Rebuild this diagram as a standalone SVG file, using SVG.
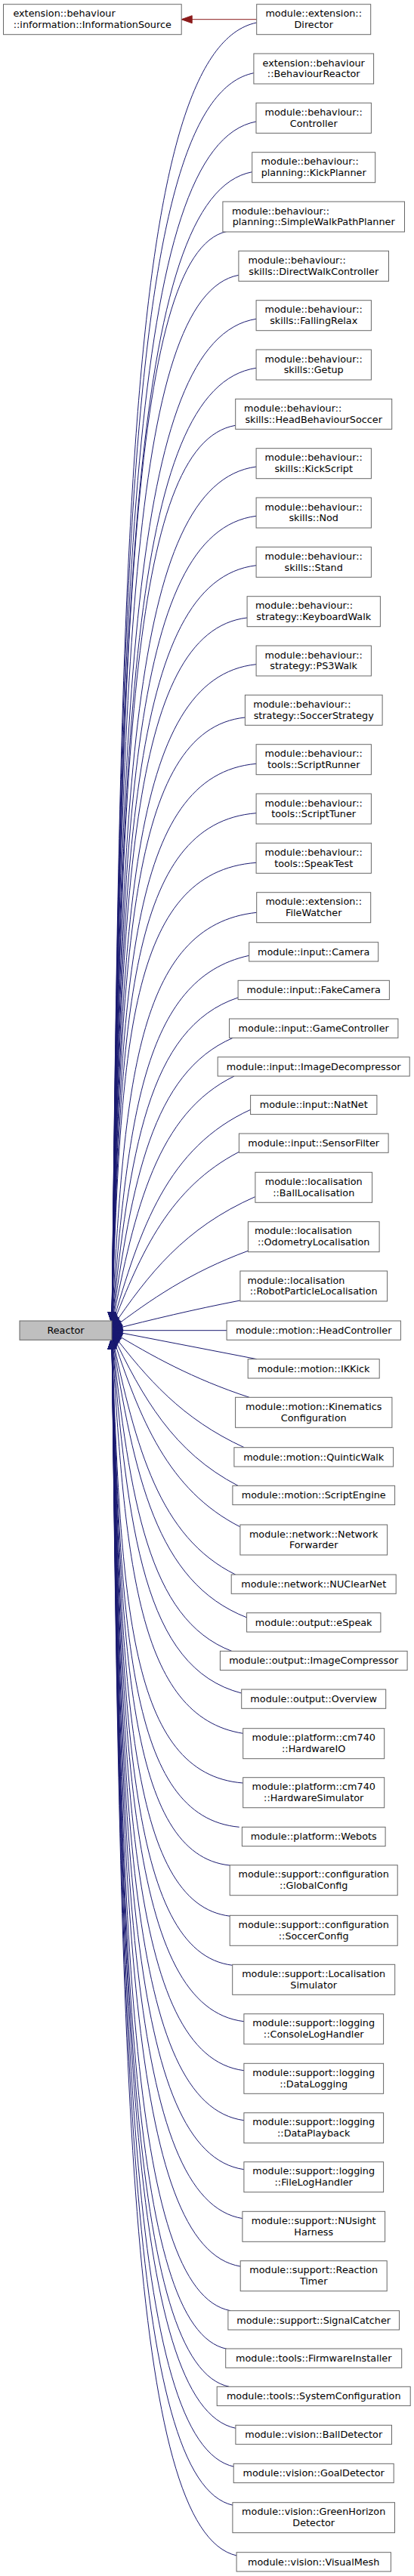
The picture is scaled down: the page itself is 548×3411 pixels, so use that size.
<svg xmlns="http://www.w3.org/2000/svg" width="548" height="3411" viewBox="0 0 548 3411">
<style>
rect{fill:#fff;stroke:#666;stroke-width:1}
#node-reactor rect{fill:#bfbfbf}
text{font-family:"DejaVu Sans",sans-serif;font-size:12.8px;fill:#000;text-anchor:middle}
text.l{text-anchor:start}
#edges path{fill:none;stroke:#191970;stroke-width:1;marker-end:url(#ab)}
#edges path.r{stroke:#8b1a1a;marker-end:url(#ar)}
</style>
<defs>
<marker id="ab" viewBox="0 -5 14 10" refX="14" refY="0" markerWidth="14" markerHeight="10" markerUnits="userSpaceOnUse" orient="auto" overflow="visible"><path d="M0,-5L14,0L0,5z" fill="#191970" stroke="#191970" stroke-width="1"/></marker>
<marker id="ar" viewBox="0 -5 14 10" refX="14" refY="0" markerWidth="14" markerHeight="10" markerUnits="userSpaceOnUse" orient="auto" overflow="visible"><path d="M0,-5L14,0L0,5z" fill="#8b1a1a" stroke="#8b1a1a" stroke-width="1"/></marker>
</defs>
<rect x="0" y="0" width="548" height="3411" style="fill:#fff;stroke:none"/>
<g id="edges">
<path class="r" d="M339.7,25.7 L240.2,25.7"/>
<path d="M339.7,30 C170,64.4 160,718.7 148,1751.7"/>
<path d="M335.9,96.7 C170,129.8 160,758.7 148,1751.7"/>
<path d="M339,161 C170,192.8 160,797.3 148,1751.7"/>
<path d="M333.7,227.7 C170,258.2 160,837.3 148,1751.7"/>
<path d="M300,306.5 C170,335.4 160,884.6 148,1751.7"/>
<path d="M315.9,364.3 C170,392 160,919.3 148,1751.7"/>
<path d="M339.1,422.3 C170,448.9 160,954.1 148,1751.7"/>
<path d="M339.1,487.3 C170,512.6 160,993.1 148,1751.7"/>
<path d="M311.7,563.3 C170,587.1 160,1038.7 148,1751.7"/>
<path d="M339.1,618 C170,640.7 160,1071.5 148,1751.7"/>
<path d="M339.1,683.3 C170,704.7 160,1110.7 148,1751.7"/>
<path d="M339.1,748.7 C170,768.8 160,1149.9 148,1751.7"/>
<path d="M327.1,818 C170,836.7 160,1191.5 148,1751.7"/>
<path d="M339.1,879.7 C170,897.1 160,1228.5 148,1751.7"/>
<path d="M324.4,950 C170,966 160,1270.7 148,1751.7"/>
<path d="M339.1,1011.3 C170,1026.1 160,1307.5 148,1751.7"/>
<path d="M339.1,1076.7 C170,1090.2 160,1346.7 148,1751.7"/>
<path d="M339.1,1142.3 C170,1154.5 160,1386.1 148,1751.7"/>
<path d="M339.7,1208.3 C179.8,1225.2 164.8,1439.4 148,1752.4"/>
<path d="M329.7,1265.3 C188.5,1295.7 169.1,1484.8 148,1753.3"/>
<path d="M315,1321 C194.8,1361.1 172.1,1526.4 148,1754.2"/>
<path d="M308.3,1374.3 C201,1420.7 175.1,1563.7 148,1755"/>
<path d="M310,1425 C208.6,1474.5 178.8,1597 148,1755.9"/>
<path d="M331.7,1469.3 C222.4,1519.2 185.6,1624.2 148,1756.7"/>
<path d="M316.3,1525.3 C225.3,1572.7 187,1656.2 148,1757.6"/>
<path d="M337.7,1584.7 C244.2,1625.8 196.4,1687.1 148,1758.5"/>
<path d="M328.3,1656.3 C251.3,1684.8 199.8,1720.5 148,1759.6"/>
<path d="M317.9,1722 C255.4,1734.1 201.7,1747.1 148,1760.7"/>
<path d="M300,1761.7 L148,1761.7"/>
<path d="M340,1799.7 C276,1787.3 212,1775 148,1762.5"/>
<path d="M330,1850.3 C254.9,1825.6 201.6,1795.8 148,1763.5"/>
<path d="M323.3,1916.7 C240.8,1878.9 194.6,1825.5 148,1764.5"/>
<path d="M315,1967.3 C229.2,1922.7 189,1850.8 148,1765.3"/>
<path d="M317.7,2021.7 C222.3,1972.9 185.6,1880.4 148,1766.3"/>
<path d="M311.7,2085 C211,2035.2 180,1918 148,1767.3"/>
<path d="M326.3,2141.7 C206.5,2094.8 177.9,1954.7 148,1768.1"/>
<path d="M306.7,2186.3 C195.5,2143.9 172.5,1985.5 148,1769"/>
<path d="M319.7,2242 C189.7,2208.5 169.6,2026.3 148,1769.8"/>
<path d="M321.7,2295.3 C181.8,2273.3 165.8,2067.9 148,1770.8"/>
<path d="M321.7,2361 C171,2349.2 160.5,2123 148,1771.7"/>
<path d="M316.7,2419.3 C170,2406.3 160,2160.3 148,1771.7"/>
<path d="M304.2,2470 C170,2456 160,2190.7 148,1771.7"/>
<path d="M305,2537.3 C170,2522 160,2231.1 148,1771.7"/>
<path d="M307.7,2602.3 C170,2585.7 160,2270.1 148,1771.7"/>
<path d="M322.9,2676.7 C170,2658.6 160,2314.7 148,1771.7"/>
<path d="M322.9,2741.7 C170,2722.3 160,2353.7 148,1771.7"/>
<path d="M322.9,2807.7 C170,2787 160,2393.3 148,1771.7"/>
<path d="M322.9,2872.7 C170,2850.7 160,2432.3 148,1771.7"/>
<path d="M321.7,2937.7 C170,2914.4 160,2471.3 148,1771.7"/>
<path d="M318.2,3001 C170,2976.4 160,2509.3 148,1771.7"/>
<path d="M305,3059.7 C170,3033.9 160,2544.5 148,1771.7"/>
<path d="M300,3110.3 C170,3083.5 160,2574.9 148,1771.7"/>
<path d="M303.3,3160.3 C170,3132.5 160,2604.9 148,1771.7"/>
<path d="M311.9,3215.3 C170,3186.4 160,2637.9 148,1771.7"/>
<path d="M310,3266.3 C170,3236.4 160,2668.5 148,1771.7"/>
<path d="M308.3,3317.3 C170,3286.4 160,2699.1 148,1771.7"/>
<path d="M313.3,3384 C170,3351.8 160,2739.1 148,1771.7"/>
</g>
<g id="node-informationsource"><rect x="4.5" y="5.7" width="235.7" height="40"/><text class="l" x="17.4" y="22.2">extension::behaviour</text><text x="122.3" y="36.9">::information::InformationSource</text></g>
<g id="node-reactor"><rect x="26" y="1749" width="122" height="25.3"/><text x="87" y="1765.8">Reactor</text></g>
<g id="node-director"><rect x="339.7" y="5.7" width="151" height="40"/><text x="415.2" y="22.2">module::extension::</text><text x="415.2" y="36.9">Director</text></g>
<g id="node-behaviourreactor"><rect x="335.9" y="71" width="158.7" height="40"/><text x="415.2" y="87.5">extension::behaviour</text><text x="415.2" y="102.2">::BehaviourReactor</text></g>
<g id="node-controller"><rect x="339" y="136.3" width="152.4" height="40"/><text x="415.2" y="152.8">module::behaviour::</text><text x="415.2" y="167.5">Controller</text></g>
<g id="node-kickplanner"><rect x="333.7" y="201.7" width="163" height="40"/><text class="l" x="345.6" y="218.2">module::behaviour::</text><text x="415.2" y="232.9">planning::KickPlanner</text></g>
<g id="node-simplewalkpathplanner"><rect x="294.9" y="267" width="240.6" height="40"/><text class="l" x="306.9" y="283.5">module::behaviour::</text><text x="415.2" y="298.2">planning::SimpleWalkPathPlanner</text></g>
<g id="node-directwalkcontroller"><rect x="315.9" y="332.3" width="198.6" height="40"/><text class="l" x="328.5" y="348.8">module::behaviour::</text><text x="415.2" y="363.5">skills::DirectWalkController</text></g>
<g id="node-fallingrelax"><rect x="339.1" y="397.7" width="152.3" height="40"/><text x="415.2" y="414.2">module::behaviour::</text><text x="415.2" y="428.9">skills::FallingRelax</text></g>
<g id="node-getup"><rect x="339.1" y="463" width="152.3" height="40"/><text x="415.2" y="479.5">module::behaviour::</text><text x="415.2" y="494.2">skills::Getup</text></g>
<g id="node-headbehavioursoccer"><rect x="311.7" y="528.3" width="207" height="40"/><text class="l" x="323.1" y="544.8">module::behaviour::</text><text x="415.2" y="559.5">skills::HeadBehaviourSoccer</text></g>
<g id="node-kickscript"><rect x="339.1" y="593.7" width="152.3" height="40"/><text x="415.2" y="610.2">module::behaviour::</text><text x="415.2" y="624.9">skills::KickScript</text></g>
<g id="node-nod"><rect x="339.1" y="659" width="152.3" height="40"/><text x="415.2" y="675.5">module::behaviour::</text><text x="415.2" y="690.2">skills::Nod</text></g>
<g id="node-stand"><rect x="339.1" y="724.3" width="152.3" height="40"/><text x="415.2" y="740.8">module::behaviour::</text><text x="415.2" y="755.5">skills::Stand</text></g>
<g id="node-keyboardwalk"><rect x="327.1" y="789.7" width="176.3" height="40"/><text class="l" x="337.9" y="806.2">module::behaviour::</text><text x="415.2" y="820.9">strategy::KeyboardWalk</text></g>
<g id="node-ps3walk"><rect x="339.1" y="855" width="152.3" height="40"/><text x="415.2" y="871.5">module::behaviour::</text><text x="415.2" y="886.2">strategy::PS3Walk</text></g>
<g id="node-soccerstrategy"><rect x="324.4" y="920.3" width="181.7" height="40"/><text class="l" x="335.2" y="936.8">module::behaviour::</text><text x="415.2" y="951.5">strategy::SoccerStrategy</text></g>
<g id="node-scriptrunner"><rect x="339.1" y="985.7" width="152.3" height="40"/><text x="415.2" y="1002.2">module::behaviour::</text><text x="415.2" y="1016.9">tools::ScriptRunner</text></g>
<g id="node-scripttuner"><rect x="339.1" y="1051" width="152.3" height="40"/><text x="415.2" y="1067.5">module::behaviour::</text><text x="415.2" y="1082.2">tools::ScriptTuner</text></g>
<g id="node-speaktest"><rect x="339.1" y="1116.3" width="152.3" height="40"/><text x="415.2" y="1132.8">module::behaviour::</text><text x="415.2" y="1147.5">tools::SpeakTest</text></g>
<g id="node-filewatcher"><rect x="339.7" y="1181.7" width="151" height="40"/><text x="415.2" y="1198.2">module::extension::</text><text x="415.2" y="1212.9">FileWatcher</text></g>
<g id="node-camera"><rect x="329.7" y="1247.7" width="171" height="25.3"/><text x="415.2" y="1264.5">module::input::Camera</text></g>
<g id="node-fakecamera"><rect x="315.1" y="1298.3" width="200.3" height="25.3"/><text x="415.2" y="1315.1">module::input::FakeCamera</text></g>
<g id="node-gamecontroller"><rect x="303.5" y="1349" width="223.4" height="25.3"/><text x="415.2" y="1365.8">module::input::GameController</text></g>
<g id="node-imagedecompressor"><rect x="288.2" y="1399.7" width="254" height="25.3"/><text x="415.2" y="1416.5">module::input::ImageDecompressor</text></g>
<g id="node-natnet"><rect x="331.6" y="1450.3" width="167.3" height="25.3"/><text x="415.2" y="1467.1">module::input::NatNet</text></g>
<g id="node-sensorfilter"><rect x="316.4" y="1501" width="197.7" height="25.3"/><text x="415.2" y="1517.8">module::input::SensorFilter</text></g>
<g id="node-balllocalisation"><rect x="337.9" y="1552.3" width="154.7" height="40"/><text x="415.2" y="1568.8">module::localisation</text><text x="415.2" y="1583.5">::BallLocalisation</text></g>
<g id="node-odometrylocalisation"><rect x="328.4" y="1617.7" width="173.7" height="40"/><text class="l" x="336.9" y="1634.2">module::localisation</text><text x="415.2" y="1648.9">::OdometryLocalisation</text></g>
<g id="node-robotparticlelocalisation"><rect x="317.9" y="1683" width="194.7" height="40"/><text class="l" x="327.5" y="1699.5">module::localisation</text><text x="415.2" y="1714.2">::RobotParticleLocalisation</text></g>
<g id="node-headcontroller"><rect x="300.1" y="1749" width="230.3" height="25.3"/><text x="415.2" y="1765.8">module::motion::HeadController</text></g>
<g id="node-ikkick"><rect x="328.2" y="1799.7" width="174" height="25.3"/><text x="415.2" y="1816.5">module::motion::IKKick</text></g>
<g id="node-kinematicsconfiguration"><rect x="311.6" y="1850.3" width="207.3" height="40"/><text x="415.2" y="1866.8">module::motion::Kinematics</text><text x="415.2" y="1881.5">Configuration</text></g>
<g id="node-quinticwalk"><rect x="309.9" y="1916.7" width="210.7" height="25.3"/><text x="415.2" y="1933.5">module::motion::QuinticWalk</text></g>
<g id="node-scriptengine"><rect x="307.9" y="1967.3" width="214.7" height="25.3"/><text x="415.2" y="1984.1">module::motion::ScriptEngine</text></g>
<g id="node-networkforwarder"><rect x="317.9" y="2019" width="194.7" height="40"/><text x="415.2" y="2035.5">module::network::Network</text><text x="415.2" y="2050.2">Forwarder</text></g>
<g id="node-nuclearnet"><rect x="306.2" y="2085" width="218" height="25.3"/><text x="415.2" y="2101.8">module::network::NUClearNet</text></g>
<g id="node-espeak"><rect x="326.6" y="2135.7" width="177.3" height="25.3"/><text x="415.2" y="2152.5">module::output::eSpeak</text></g>
<g id="node-imagecompressor"><rect x="291.4" y="2186.3" width="247.7" height="25.3"/><text x="415.2" y="2203.1">module::output::ImageCompressor</text></g>
<g id="node-overview"><rect x="319.7" y="2237" width="191" height="25.3"/><text x="415.2" y="2253.8">module::output::Overview</text></g>
<g id="node-hardwareio"><rect x="321.7" y="2288.7" width="187" height="40"/><text x="415.2" y="2305.2">module::platform::cm740</text><text x="415.2" y="2319.9">::HardwareIO</text></g>
<g id="node-hardwaresimulator"><rect x="321.7" y="2353.7" width="187" height="40"/><text x="415.2" y="2370.2">module::platform::cm740</text><text x="415.2" y="2384.9">::HardwareSimulator</text></g>
<g id="node-webots"><rect x="320.4" y="2419.3" width="189.7" height="25.3"/><text x="415.2" y="2436.1">module::platform::Webots</text></g>
<g id="node-globalconfig"><rect x="304.2" y="2469.7" width="222" height="40"/><text x="415.2" y="2486.2">module::support::configuration</text><text x="415.2" y="2500.9">::GlobalConfig</text></g>
<g id="node-soccerconfig"><rect x="304.2" y="2536.3" width="222" height="40"/><text x="415.2" y="2552.8">module::support::configuration</text><text x="415.2" y="2567.5">::SoccerConfig</text></g>
<g id="node-localisationsimulator"><rect x="307.7" y="2601.3" width="215" height="40"/><text x="415.2" y="2617.8">module::support::Localisation</text><text x="415.2" y="2632.5">Simulator</text></g>
<g id="node-consoleloghandler"><rect x="322.9" y="2666.7" width="184.7" height="40"/><text x="415.2" y="2683.2">module::support::logging</text><text x="415.2" y="2697.9">::ConsoleLogHandler</text></g>
<g id="node-datalogging"><rect x="322.9" y="2732.3" width="184.7" height="40"/><text x="415.2" y="2748.8">module::support::logging</text><text x="415.2" y="2763.5">::DataLogging</text></g>
<g id="node-dataplayback"><rect x="322.9" y="2797.7" width="184.7" height="40"/><text x="415.2" y="2814.2">module::support::logging</text><text x="415.2" y="2828.9">::DataPlayback</text></g>
<g id="node-fileloghandler"><rect x="322.9" y="2862.7" width="184.7" height="40"/><text x="415.2" y="2879.2">module::support::logging</text><text x="415.2" y="2893.9">::FileLogHandler</text></g>
<g id="node-nusightharness"><rect x="320.9" y="2928.3" width="188.7" height="40"/><text x="415.2" y="2944.8">module::support::NUsight</text><text x="415.2" y="2959.5">Harness</text></g>
<g id="node-reactiontimer"><rect x="318.2" y="2993.7" width="194" height="40"/><text x="415.2" y="3010.2">module::support::Reaction</text><text x="415.2" y="3024.9">Timer</text></g>
<g id="node-signalcatcher"><rect x="301.9" y="3059.7" width="226.6" height="25.3"/><text x="415.2" y="3076.5">module::support::SignalCatcher</text></g>
<g id="node-firmwareinstaller"><rect x="298.7" y="3110" width="233" height="25.3"/><text x="415.2" y="3126.8">module::tools::FirmwareInstaller</text></g>
<g id="node-systemconfiguration"><rect x="287.2" y="3160.3" width="256" height="25.3"/><text x="415.2" y="3177.1">module::tools::SystemConfiguration</text></g>
<g id="node-balldetector"><rect x="311.9" y="3211.3" width="206.6" height="25.3"/><text x="415.2" y="3228.1">module::vision::BallDetector</text></g>
<g id="node-goaldetector"><rect x="309.2" y="3262.3" width="212" height="25.3"/><text x="415.2" y="3279.1">module::vision::GoalDetector</text></g>
<g id="node-greenhorizondetector"><rect x="307.9" y="3313.7" width="214.6" height="40"/><text x="415.2" y="3330.2">module::vision::GreenHorizon</text><text x="415.2" y="3344.9">Detector</text></g>
<g id="node-visualmesh"><rect x="313.1" y="3379.7" width="204.3" height="25.3"/><text x="415.2" y="3396.5">module::vision::VisualMesh</text></g>
</svg>
